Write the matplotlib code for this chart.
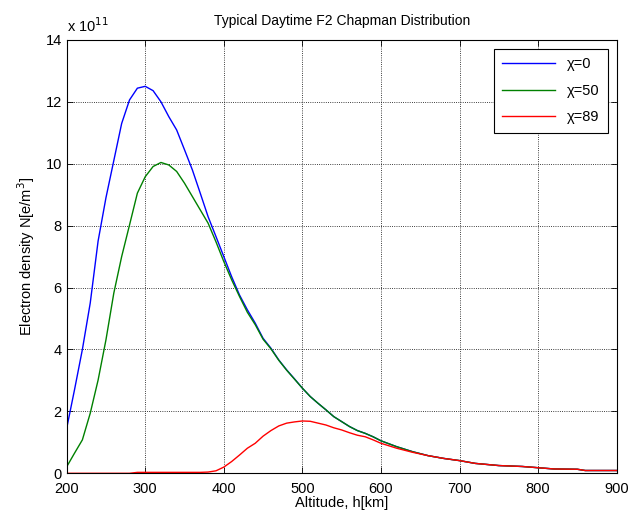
import numpy as np
import matplotlib
matplotlib.use("Agg")
import matplotlib.pyplot as plt

plt.rcParams['font.family'] = ['Liberation Sans', 'DejaVu Sans']

# altitude [km]
alt = [200, 210, 220, 230, 240, 250, 260, 270, 280, 290, 300, 310, 320, 330, 340,
       350, 360, 370, 380, 390, 400, 410, 420, 430, 440, 450, 460, 470, 480, 490,
       500, 510, 520, 530, 540, 550, 560, 570, 580, 590, 600, 620, 640, 660, 680,
       700, 720, 750, 780, 800, 820, 850, 860, 900]

# electron density, units of 1e11 e/m^3
n_chi0 = [1.45, 2.7, 4.0, 5.5, 7.5, 8.9, 10.1, 11.3, 12.06, 12.44, 12.5, 12.36, 12.0,
          11.52, 11.09, 10.45, 9.8, 9.05, 8.29, 7.65, 7.0, 6.35, 5.76, 5.28, 4.85,
          4.36, 4.04, 3.66, 3.34, 3.05, 2.75, 2.48, 2.26, 2.05, 1.83, 1.67, 1.51,
          1.38, 1.29, 1.18, 1.05, 0.86, 0.70, 0.57, 0.48, 0.41, 0.32, 0.25, 0.22,
          0.18, 0.14, 0.13, 0.09, 0.09]
n_chi50 = [0.21, 0.65, 1.08, 1.94, 3.01, 4.31, 5.82, 7.0, 8.02, 9.05, 9.58, 9.91,
           10.04, 9.96, 9.75, 9.37, 8.94, 8.51, 8.08, 7.48, 6.84, 6.25, 5.71, 5.2,
           4.8, 4.33, 4.02, 3.65, 3.33, 3.04, 2.75, 2.48, 2.26, 2.05, 1.83, 1.67,
           1.51, 1.38, 1.29, 1.18, 1.05, 0.86, 0.70, 0.57, 0.48, 0.41, 0.32, 0.25,
           0.22, 0.18, 0.14, 0.13, 0.09, 0.09]
n_chi89 = [0.0, 0.0, 0.0, 0.0, 0.0, 0.0, 0.0, 0.0, 0.0, 0.03, 0.03, 0.03, 0.03,
           0.03, 0.03, 0.03, 0.03, 0.03, 0.04, 0.08, 0.2, 0.38, 0.59, 0.81, 0.97,
           1.2, 1.38, 1.53, 1.62, 1.66, 1.69, 1.68, 1.62, 1.56, 1.47, 1.40, 1.31,
           1.23, 1.18, 1.08, 0.97, 0.81, 0.68, 0.57, 0.48, 0.41, 0.32, 0.25, 0.22,
           0.18, 0.14, 0.13, 0.09, 0.09]

fig = plt.figure(figsize=(6.41, 5.18), dpi=100)
ax = fig.add_axes([0.104, 0.0863, 0.858, 0.8367])

ax.plot(alt, n_chi0, color='#0000ff', lw=1.0, label='χ=0')
ax.plot(alt, n_chi50, color='#008000', lw=1.0, label='χ=50')
ax.plot(alt, n_chi89, color='#ff0000', lw=1.0, label='χ=89')

ax.set_xlim(200, 900)
ax.set_ylim(0, 14)
ax.set_xticks(range(200, 901, 100))
ax.set_yticks(range(0, 15, 2))
ax.tick_params(direction='in', top=True, right=True, labelsize=10.5, length=4, width=0.6)
ax.tick_params(axis='x', pad=6)
ax.grid(True, color='black', linestyle=':', linewidth=0.6)
for s in ax.spines.values():
    s.set_linewidth(0.8)

ax.set_title('Typical Daytime F2 Chapman Distribution', fontsize=10, pad=11)
ax.set_xlabel('Altitude, h[km]', fontsize=10.5, labelpad=0)
ax.set_ylabel('Electron density N[e/m$^3$]', fontsize=10.5, labelpad=6)
ax.text(0.0, 1.012, 'x 10$^{11}$', transform=ax.transAxes, fontsize=10.5, ha='left', va='bottom')

leg = ax.legend(loc='upper right', fontsize=10.5, fancybox=False, edgecolor='black',
                framealpha=1, borderaxespad=0.6, handlelength=3.6, labelspacing=0.85,
                borderpad=0.6)
leg.get_frame().set_linewidth(0.8)

fig.savefig('out.png', dpi=100)
